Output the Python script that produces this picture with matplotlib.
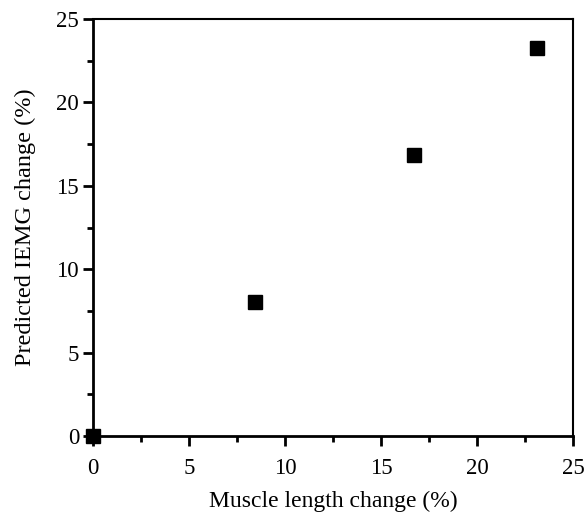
import matplotlib.pyplot as plt
from matplotlib.ticker import MultipleLocator

plt.rcParams["font.family"] = ["Liberation Serif", "DejaVu Serif"]

length_change = [0.0, 8.45, 16.7, 23.15]
iemg_change = [0.0, 8.05, 16.85, 23.25]


def main() -> None:
    fig = plt.figure(figsize=(5.86, 5.15), dpi=100)
    ax = fig.add_axes([0.1587, 0.1534, 0.8191, 0.8097])

    ax.plot(length_change, iemg_change, linestyle="none", marker="s",
            markersize=10, color="black", clip_on=False, zorder=5)

    ax.set_xlim(0, 25)
    ax.set_ylim(0, 25)
    ax.xaxis.set_major_locator(MultipleLocator(5))
    ax.xaxis.set_minor_locator(MultipleLocator(2.5))
    ax.yaxis.set_major_locator(MultipleLocator(5))
    ax.yaxis.set_minor_locator(MultipleLocator(2.5))

    for side in ("left", "bottom"):
        ax.spines[side].set_linewidth(2.0)
    for side in ("top", "right"):
        ax.spines[side].set_linewidth(1.5)

    ax.tick_params(which="major", direction="out", length=7, width=2,
                   labelsize=16.5)
    ax.tick_params(which="minor", direction="out", length=4.5, width=2)
    ax.tick_params(axis="x", which="major", pad=9)
    ax.tick_params(axis="y", which="major", pad=3)

    ax.set_xlabel("Muscle length change (%)", fontsize=17, labelpad=8)
    ax.set_ylabel("Predicted IEMG change (%)", fontsize=17.5, labelpad=15)

    fig.savefig("out.png", dpi=100)
    plt.close(fig)


if __name__ == "__main__":
    main()
